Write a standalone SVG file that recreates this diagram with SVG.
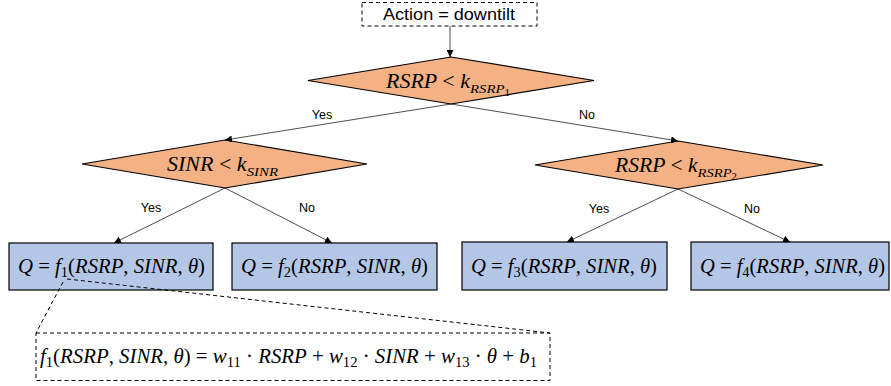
<svg xmlns="http://www.w3.org/2000/svg" width="891" height="386" viewBox="0 0 891 386">
<defs>
<style>
.dia{fill:#F4B183;stroke:#000;stroke-width:1.2}
.box{fill:#B4C7E7;stroke:#000;stroke-width:1.2}
.dash{fill:none;stroke:#000;stroke-width:1;stroke-dasharray:4 3}
.ln{stroke:#000;stroke-width:0.7;fill:none;marker-end:url(#ah)}
.m{font-family:"Liberation Serif","DejaVu Serif",serif;font-style:italic;font-size:20px;fill:#000}
.up{font-style:normal}
.lbl{font-family:"Liberation Sans","Open Sans",sans-serif;font-size:12.5px;fill:#000;text-anchor:middle}
.act{font-family:"Liberation Sans","Open Sans",sans-serif;font-size:16px;fill:#000}
</style>
<marker id="ah" viewBox="0 0 10 10" refX="10" refY="5" markerWidth="7" markerHeight="7" markerUnits="userSpaceOnUse" orient="auto">
<path d="M0,0 L10,5 L0,10 z" fill="#000"/>
</marker>
</defs>
<rect width="891" height="386" fill="#fff"/>
<g id="action">
<rect class="dash" x="362" y="2.5" width="175" height="23.5"/>
<text class="act" x="383" y="20" textLength="132" lengthAdjust="spacingAndGlyphs">Action = downtilt</text>
</g>
<g id="d1">
<polygon class="dia" points="451,57 594,80.5 451,104 308,80.5"/>
<text class="m" x="386" y="88" textLength="124" lengthAdjust="spacingAndGlyphs">RSRP <tspan class="up">&lt;</tspan> k<tspan font-size="13.5" dy="5">RSRP</tspan><tspan font-size="10" dy="3" class="up">1</tspan></text>
</g>
<g id="d2">
<polygon class="dia" points="225,140 367,164 225,188 82,164"/>
<text class="m" x="167" y="171" textLength="111" lengthAdjust="spacingAndGlyphs">SINR <tspan class="up">&lt;</tspan> k<tspan font-size="13.5" dy="5">SINR</tspan></text>
</g>
<g id="d3">
<polygon class="dia" points="678,141 823,165 678,189 535,165"/>
<text class="m" x="615" y="172" textLength="122" lengthAdjust="spacingAndGlyphs">RSRP <tspan class="up">&lt;</tspan> k<tspan font-size="13.5" dy="5">RSRP</tspan><tspan font-size="10" dy="3" class="up">2</tspan></text>
</g>
<g id="b1">
<rect class="box" x="9" y="243" width="204" height="47"/>
<text class="m" x="18" y="273" textLength="187" lengthAdjust="spacingAndGlyphs">Q <tspan class="up">=</tspan> f<tspan font-size="14" dy="4" class="up">1</tspan><tspan dy="-4" class="up">(</tspan>RSRP<tspan class="up">, </tspan>SINR<tspan class="up">, </tspan>θ<tspan class="up">)</tspan></text>
</g>
<g id="b2">
<rect class="box" x="232" y="243" width="205" height="47"/>
<text class="m" x="241" y="273" textLength="187" lengthAdjust="spacingAndGlyphs">Q <tspan class="up">=</tspan> f<tspan font-size="14" dy="4" class="up">2</tspan><tspan dy="-4" class="up">(</tspan>RSRP<tspan class="up">, </tspan>SINR<tspan class="up">, </tspan>θ<tspan class="up">)</tspan></text>
</g>
<g id="b3">
<rect class="box" x="462" y="242" width="205" height="48"/>
<text class="m" x="471" y="273" textLength="186" lengthAdjust="spacingAndGlyphs">Q <tspan class="up">=</tspan> f<tspan font-size="14" dy="4" class="up">3</tspan><tspan dy="-4" class="up">(</tspan>RSRP<tspan class="up">, </tspan>SINR<tspan class="up">, </tspan>θ<tspan class="up">)</tspan></text>
</g>
<g id="b4">
<rect class="box" x="691" y="242" width="198" height="48"/>
<text class="m" x="700" y="273" textLength="185" lengthAdjust="spacingAndGlyphs">Q <tspan class="up">=</tspan> f<tspan font-size="14" dy="4" class="up">4</tspan><tspan dy="-4" class="up">(</tspan>RSRP<tspan class="up">, </tspan>SINR<tspan class="up">, </tspan>θ<tspan class="up">)</tspan></text>
</g>
<g id="formula">
<rect class="dash" x="36" y="333" width="514" height="47.5"/>
<text class="m" x="40" y="363" textLength="497" lengthAdjust="spacingAndGlyphs">f<tspan font-size="14" dy="4" class="up">1</tspan><tspan dy="-4" class="up">(</tspan>RSRP<tspan class="up">, </tspan>SINR<tspan class="up">, </tspan>θ<tspan class="up">) =  </tspan>w<tspan font-size="14" dy="4" class="up">11</tspan><tspan dy="-4" class="up"> · </tspan>RSRP<tspan class="up"> + </tspan>w<tspan font-size="14" dy="4" class="up">12</tspan><tspan dy="-4" class="up"> · </tspan>SINR<tspan class="up"> + </tspan>w<tspan font-size="14" dy="4" class="up">13</tspan><tspan dy="-4" class="up"> · </tspan>θ<tspan class="up"> + </tspan>b<tspan font-size="14" dy="4" class="up">1</tspan></text>
</g>
<g id="connectors">
<line class="ln" x1="450" y1="26" x2="450" y2="57"/>
<line class="ln" x1="451" y1="104" x2="225" y2="140"/>
<line class="ln" x1="451" y1="104" x2="678" y2="141"/>
<line class="ln" x1="225" y1="188" x2="114" y2="243"/>
<line class="ln" x1="225" y1="188" x2="332" y2="243"/>
<line class="ln" x1="678" y1="189" x2="567" y2="242"/>
<line class="ln" x1="678" y1="189" x2="790" y2="242"/>
<text class="lbl" x="322" y="119">Yes</text>
<text class="lbl" x="587" y="119">No</text>
<text class="lbl" x="151" y="212">Yes</text>
<text class="lbl" x="307" y="212">No</text>
<text class="lbl" x="599" y="213">Yes</text>
<text class="lbl" x="752" y="213">No</text>
<line class="dash" x1="67" y1="279" x2="550" y2="333"/>
<line class="dash" x1="63" y1="282" x2="36" y2="333"/>
</g>
</svg>
